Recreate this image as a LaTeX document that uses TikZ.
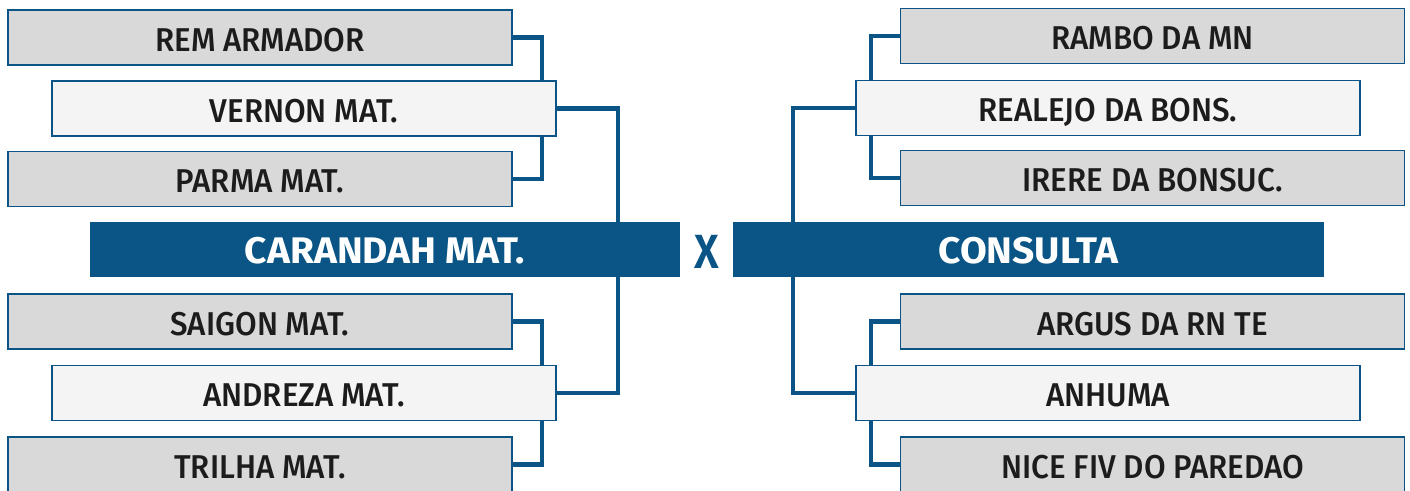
\documentclass[tikz,border=0pt]{standalone}
\usepackage{fontspec}
\newfontfamily\boxfont{Fira Sans Medium}[FakeStretch=0.95]
\newfontfamily\barfont{Fira Sans Bold}[FakeStretch=1.05]
\newfontfamily\vsfont{Fira Sans SemiBold}[FakeStretch=0.9]
\definecolor{navy}{HTML}{0A5585}
\definecolor{boxgray}{HTML}{D9D9D9}
\definecolor{boxlight}{HTML}{F4F4F4}
\definecolor{txt}{HTML}{1C1C1C}
\tikzset{
  team/.style={draw=navy, line width=1.6pt, fill=boxgray, minimum width=504pt, minimum height=55pt,
    inner sep=0pt, text=txt, text height=27pt, text depth=0pt,
    font=\boxfont\fontsize{33}{33}\selectfont},
  teamlight/.style={team, fill=boxlight},
  bar/.style={fill=navy, minimum height=55pt, inner sep=0pt, text=white,
    text height=27.7pt, text depth=0pt, font=\barfont\fontsize{37}{37}\selectfont},
  link/.style={draw=navy, line width=4.5pt, line join=miter}
}
\begin{document}
\begin{tikzpicture}[x=1pt,y=-1pt]
\useasboundingbox (0,0) rectangle (1410,490);
% left
\node[team] (rem) at (260,37.5) {REM ARMADOR};
\node[teamlight] (vernon) at (304,108.5) {VERNON MAT.};
\node[team] (parma) at (260,179) {PARMA MAT.};
\node[team] (saigon) at (260,321.5) {SAIGON MAT.};
\node[teamlight] (andreza) at (304,393) {ANDREZA MAT.};
\node[team] (trilha) at (260,464.5) {TRILHA MAT.};
\node[bar, minimum width=590pt] (carandah) at (385,249.5) {CARANDAH MAT.};
% right
\node[team] (rambo) at (1152.5,36) {RAMBO DA MN};
\node[teamlight] (realejo) at (1108,108) {REALEJO DA BONS.};
\node[team] (irere) at (1152.5,178) {IRERE DA BONSUC.};
\node[team] (argus) at (1152.5,321.5) {ARGUS DA RN TE};
\node[teamlight] (anhuma) at (1108,393) {ANHUMA};
\node[team] (nice) at (1152.5,464.5) {NICE FIV DO PAREDAO};
\node[bar, minimum width=591pt] (consulta) at (1028.5,249.5) {CONSULTA};
\node[text=navy, font=\vsfont\fontsize{48}{48}\selectfont, inner sep=0pt] (vs) at (706.5,251.7) {X};
% x positions of the vertical connectors
\coordinate (cxL) at (542,0);
\coordinate (cxM) at (618,0);
\coordinate (cxR) at (871,0);
\coordinate (cxN) at (793,0);
% left connectors
\draw[link] (rem.east) -| (vernon.north -| cxL);
\draw[link] (vernon.south -| cxL) |- (parma.east);
\draw[link] (vernon.east) -| (carandah.north -| cxM);
\draw[link] (saigon.east) -| (andreza.north -| cxL);
\draw[link] (andreza.south -| cxL) |- (trilha.east);
\draw[link] (andreza.east) -| (carandah.south -| cxM);
% right connectors
\draw[link] (rambo.west) -| (realejo.north -| cxR);
\draw[link] (realejo.south -| cxR) |- (irere.west);
\draw[link] (realejo.west) -| (consulta.north -| cxN);
\draw[link] (argus.west) -| (anhuma.north -| cxR);
\draw[link] (anhuma.south -| cxR) |- (nice.west);
\draw[link] (anhuma.west) -| (consulta.south -| cxN);
\end{tikzpicture}
\end{document}
